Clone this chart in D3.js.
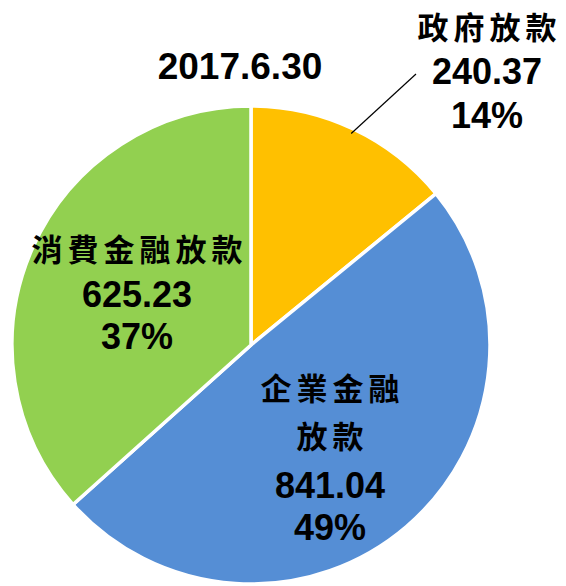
<!DOCTYPE html>
<html>
<head>
<meta charset="utf-8">
<script src="https://cdn.jsdelivr.net/npm/d3@7"></script>
<style>
  body { margin: 0; background: #fff; }
  .num { font-family: "Liberation Sans", Arial, sans-serif; font-weight: bold; fill: #000; }
  .cjk { font-family: "Noto Sans CJK TC", "Noto Sans CJK SC", sans-serif; font-weight: bold; fill: #000; }
</style>
</head>
<body>
<div id="chart"></div>
<script>
// data (unit: 億元)
var names = ["政府放款", "企業金融放款", "消費金融放款"];
var values = [240.37, 841.04, 625.23];
var percents = ["14%", "49%", "37%"];
var colors = ["#FFC000", "#558ED5", "#92D050"];
var dateLabel = "2017.6.30";

// label title lines (the corporate one wraps onto two lines)
var titleLines = [["政府放款"], ["企業金融", "放款"], ["消費金融放款"]];

var width = 566, height = 586;
var cx = 251, cy = 345, radius = 239;

var svg = d3.select("#chart").append("svg")
    .attr("width", width)
    .attr("height", height);

var g = svg.append("g")
    .attr("transform", "translate(" + cx + "," + cy + ")");

var data = names.map(function(n, i) { return {name: n, value: values[i], pct: percents[i], color: colors[i], lines: titleLines[i]}; });

var pie = d3.pie()
  .value(function(d) { return d.value; })
  .sort(null); // keep the order, starting at 12 o'clock clockwise

var arc = d3.arc().innerRadius(0).outerRadius(radius);

g.selectAll("path.slice")
  .data(pie(data))
  .enter()
    .append("path")
      .attr("class", "slice")
      .attr("d", arc)
      .attr("fill", function(d) { return d.data.color; })
      .attr("stroke", "#fff")
      .attr("stroke-width", 3.5)
      .attr("stroke-linejoin", "miter");

// date title
svg.append("text")
  .attr("class", "num")
  .attr("x", 240)
  .attr("y", 79)
  .attr("text-anchor", "middle")
  .style("font-size", "37px")
  .text(dateLabel);

// label layout (page coords): title centre lines, then value & percent baselines
var labelLayout = [
  {x: 487, titles: [28], val: 84, pct: 128},
  {x: 330, titles: [389, 437], val: 498, pct: 540},
  {x: 137, titles: [250], val: 307, pct: 349}
];

var labels = svg.selectAll("g.label")
  .data(data)
  .enter()
    .append("g")
      .attr("class", "label");

labels.each(function(d, i) {
  var L = labelLayout[i];
  var sel = d3.select(this);
  d.lines.forEach(function(line, j) {
    sel.append("text")
      .attr("class", "cjk")
      .attr("x", L.x + 2.5)
      .attr("y", L.titles[j])
      .attr("dy", "0.35em")
      .attr("text-anchor", "middle")
      .style("font-size", "31px")
      .style("letter-spacing", "5px")
      .text(line);
  });
  sel.append("text")
    .attr("class", "num")
    .attr("x", L.x)
    .attr("y", L.val)
    .attr("text-anchor", "middle")
    .style("font-size", "36px")
    .text(d3.format(".2f")(d.value));
  sel.append("text")
    .attr("class", "num")
    .attr("x", L.x)
    .attr("y", L.pct)
    .attr("text-anchor", "middle")
    .style("font-size", "36px")
    .text(d.pct);
});

// leader line for the small government slice, from inside its outer edge
var govArc = pie(data)[0];
var mid = (govArc.startAngle + govArc.endAngle) / 2;
var p0 = [cx + Math.sin(mid) * (radius - 5), cy - Math.cos(mid) * (radius - 5)];
svg.append("line")
  .attr("x1", p0[0])
  .attr("y1", p0[1])
  .attr("x2", 416)
  .attr("y2", 74)
  .attr("stroke", "#000")
  .attr("stroke-width", 1.2);
</script>
</body>
</html>
